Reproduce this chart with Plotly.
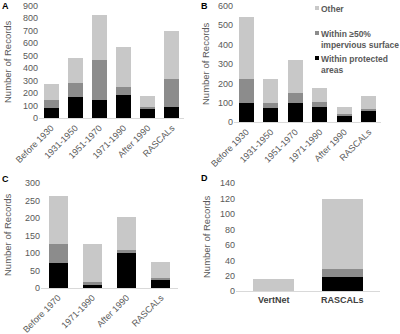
import plotly.graph_objects as go

# ---------------- data ----------------
cats_a = ["Before 1930", "1931-1950", "1951-1970", "1971-1990", "After 1990", "RASCALs"]
prot_a = [85, 170, 146, 184, 82, 88]
imperv_a = [64, 112, 317, 63, 6, 228]
other_a = [128, 202, 362, 322, 88, 378]

cats_b = ["Before 1930", "1931-1950", "1951-1970", "1971-1990", "After 1990", "RASCALs"]
prot_b = [101, 72, 98, 81, 39, 63]
imperv_b = [120, 29, 51, 25, 6, 6]
other_b = [319, 120, 172, 72, 36, 65]

cats_c = ["Before 1970", "1971-1990", "After 1990", "RASCALs"]
prot_c = [72, 11, 99, 23]
imperv_c = [54, 5, 10, 7]
other_c = [136, 110, 95, 44]

cats_d = ["VertNet", "RASCALs"]
prot_d = [0, 18]
imperv_d = [0, 11]
other_d = [16, 90]

series_names = ["Within protected areas", "Within ≥50% impervious surface", "Other"]
y_ticks_a = [0, 100, 200, 300, 400, 500, 600, 700, 800, 900]
y_ticks_b = [0, 100, 200, 300, 400, 500, 600]
y_ticks_c = [0, 50, 100, 150, 200, 250, 300]
y_ticks_d = [0, 20, 40, 60, 80, 100, 120, 140]

# ---------------- style ----------------
W, H = 400, 334
COLORS = ["#000000", "#8c8c8c", "#c8c8c8"]
FONT = "Liberation Sans, Arial, sans-serif"
TXT = "#595959"

def px_x(x):
    return x / W

def px_y(y):
    return 1 - y / H

fig = go.Figure()

panels = [
    ("", cats_a, [prot_a, imperv_a, other_a], 0.62),
    ("2", cats_b, [prot_b, imperv_b, other_b], 0.61),
    ("3", cats_c, [prot_c, imperv_c, other_c], 0.55),
    ("4", cats_d, [prot_d, imperv_d, other_d], 0.6),
]
for suffix, cats, segs, w in panels:
    for name, vals, col in zip(series_names, segs, COLORS):
        fig.add_trace(go.Bar(
            x=cats, y=vals, name=name, marker=dict(color=col, line=dict(width=0)),
            width=w, xaxis="x" + suffix, yaxis="y" + suffix, showlegend=False,
            hovertemplate="%{x}: %{y}<extra>" + name + "</extra>",
        ))

xcommon = dict(type="category", showgrid=False, zeroline=False, showline=True,
               linecolor="#d9d9d9", linewidth=1, ticks="",
               tickfont=dict(family=FONT, size=9, color=TXT))
ycommon = dict(showgrid=False, zeroline=False, showline=False, ticks="",
               tickfont=dict(family=FONT, size=9, color=TXT))

fig.update_layout(
    width=W, height=H, barmode="stack", showlegend=False,
    paper_bgcolor="white", plot_bgcolor="white",
    margin=dict(l=0, r=0, t=0, b=0, autoexpand=False),
    font=dict(family=FONT, color=TXT),
    xaxis=dict(xcommon, domain=[px_x(39), px_x(184)], anchor="y", tickangle=-45,
               range=[-0.5, len(cats_a) - 0.5]),
    yaxis=dict(ycommon, domain=[px_y(118.3), px_y(5.7)], anchor="x", range=[0, 900],
               tickvals=y_ticks_a),
    xaxis2=dict(xcommon, domain=[px_x(234), px_x(381)], anchor="y2", tickangle=-45,
                range=[-0.5, len(cats_b) - 0.5]),
    yaxis2=dict(ycommon, domain=[px_y(122.3), px_y(5.7)], anchor="x2", range=[0, 600],
                tickvals=y_ticks_b),
    xaxis3=dict(xcommon, domain=[px_x(41), px_x(178)], anchor="y3", tickangle=-45,
                range=[-0.5, len(cats_c) - 0.5]),
    yaxis3=dict(ycommon, domain=[px_y(288), px_y(183)], anchor="x3", range=[0, 300],
                tickvals=y_ticks_c),
    xaxis4=dict(xcommon, domain=[px_x(236), px_x(380)], anchor="y4", tickangle=0,
                range=[-0.55, len(cats_d) - 0.45],
                tickfont=dict(family=FONT, size=9, color="#404040", weight="bold")),
    yaxis4=dict(ycommon, domain=[px_y(291.3), px_y(183)], anchor="x4", range=[0, 140],
                tickvals=y_ticks_d),
)

ann = []
# panel letters
for letter, x, y in [("A", 5, 6), ("B", 204, 6), ("C", 5, 179), ("D", 204, 178)]:
    ann.append(dict(text="<b>" + letter + "</b>", x=px_x(x), y=px_y(y), xref="paper", yref="paper",
                    xanchor="center", yanchor="middle", showarrow=False,
                    font=dict(family=FONT, size=9, color="#000000")))
# y titles
for x, y in [(7, 62), (206, 64), (7, 235), (206, 237)]:
    ann.append(dict(text="Number of Records", x=px_x(x), y=px_y(y), xref="paper", yref="paper",
                    xanchor="center", yanchor="middle", textangle=-90, showarrow=False,
                    font=dict(family=FONT, size=9.5, color=TXT)))
# legend (manual)
legend_rows = [("Other", 8, COLORS[2]),
               ("Within ≥50%<br>impervious surface", 33, COLORS[1]),
               ("Within protected<br>areas", 58, COLORS[0])]
shapes = []
for text, y, col in legend_rows:
    ann.append(dict(text="<b>" + text + "</b>", x=px_x(319), y=px_y(y - 6), xref="paper", yref="paper",
                    xanchor="left", yanchor="top", align="left", showarrow=False,
                    font=dict(family=FONT, size=8.5, color=TXT)))
    shapes.append(dict(type="rect", xref="paper", yref="paper",
                       x0=px_x(315), x1=px_x(319), y0=px_y(y + 2), y1=px_y(y - 2),
                       fillcolor=col, line=dict(width=0)))
fig.update_layout(annotations=ann, shapes=shapes)

fig.write_html("out.html", config={"displayModeBar": False},
               post_script="document.body.style.margin='0';document.body.style.overflow='hidden';")
